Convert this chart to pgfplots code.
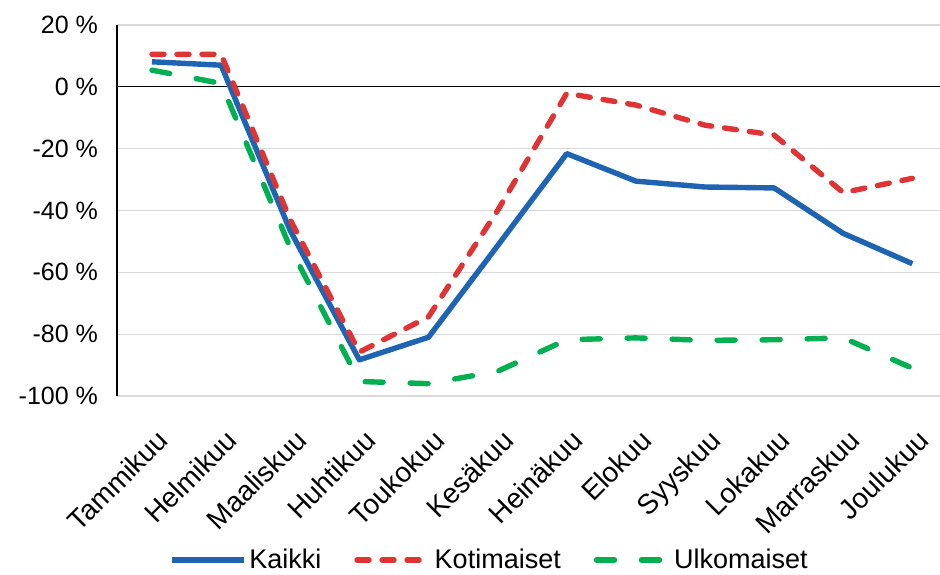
\documentclass[border=0pt]{standalone}
\usepackage{pgfplots}
\pgfplotsset{compat=1.18}
\usepackage{fontspec}
\setmainfont{Liberation Sans}
\definecolor{cblue}{RGB}{31,100,178}
\definecolor{cred}{RGB}{224,52,52}
\definecolor{cgreen}{RGB}{0,176,80}
\definecolor{cgrid}{RGB}{217,217,217}
\begin{document}
\begin{tikzpicture}
\useasboundingbox (-58.5pt,-89pt) rectangle (411.5pt,198pt);
\begin{axis}[
  at={(0,0)}, anchor=south west,
  scale only axis, width=411.5pt, height=185.5pt,
  xmin=-0.506, xmax=11.4, ymin=-100, ymax=20,
  axis lines*=left,
  x axis line style={draw=none},
  y axis line style={black, line width=0.6pt},
  major tick length=0pt,
  ytick={-100,-80,-60,-40,-20,0,20},
  yticklabels={-100 \%,-80 \%,-60 \%,-40 \%,-20 \%,0 \%,20 \%},
  extra y ticks={0}, extra y tick labels={},
  extra y tick style={grid=major, major grid style={black, line width=0.6pt}},
  ymajorgrids, major grid style={cgrid, line width=0.6pt},
  xtick={0,...,11},
  xticklabels={Tammikuu,Helmikuu,Maaliskuu,Huhtikuu,Toukokuu,Kesäkuu,Heinäkuu,Elokuu,Syyskuu,Lokakuu,Marraskuu,Joulukuu},
  x tick label style={rotate=45, anchor=north east, font=\fontsize{14}{16}\selectfont, yshift=-9pt, xshift=-6.5pt},
  y tick label style={font=\fontsize{12.5}{15}\selectfont, xshift=-6pt},
  /pgf/number format/assume math mode=true,
  clip=false,
  legend columns=3,
  legend style={at={(0.453,-0.442)}, anchor=center, draw=none, fill=none,
    font=\fontsize{13.5}{16}\selectfont, inner sep=0pt,
    nodes={inner xsep=1.5pt},
    /tikz/every even column/.append style={column sep=15pt}},
  legend image code/.code={\draw[#1] (0pt,0pt) -- (36pt,0pt);},
]
\addplot[cblue, line width=2.7pt, line join=round] coordinates {
(0,8.1) (1,7.0) (2,-46.5) (3,-88.3) (4,-81) (5,-51.4) (6,-21.6) (7,-30.5) (8,-32.4) (9,-32.7) (10,-47.4) (11,-57.2)};
\addlegendentry{Kaikki}
\addplot[cred, line width=2.7pt, line cap=round, line join=round, dash pattern=on 6pt off 6.5pt] coordinates {
(0,10.5) (1,10.5) (2,-43) (3,-85.8) (4,-74.4) (5,-40) (6,-2.1) (7,-5.9) (8,-12.4) (9,-15.6) (10,-34.2) (11,-29.6)};
\addlegendentry{Kotimaiset}
\addplot[cgreen, line width=2.7pt, line cap=round, line join=round, dash pattern=on 9pt off 13.5pt] coordinates {
(0,5.4) (1,1.1) (2,-52) (3,-95.3) (4,-96) (5,-92) (6,-81.8) (7,-81.2) (8,-82) (9,-81.8) (10,-81.2) (11,-91)};
\addlegendentry{Ulkomaiset}
\end{axis}
\end{tikzpicture}
\end{document}
